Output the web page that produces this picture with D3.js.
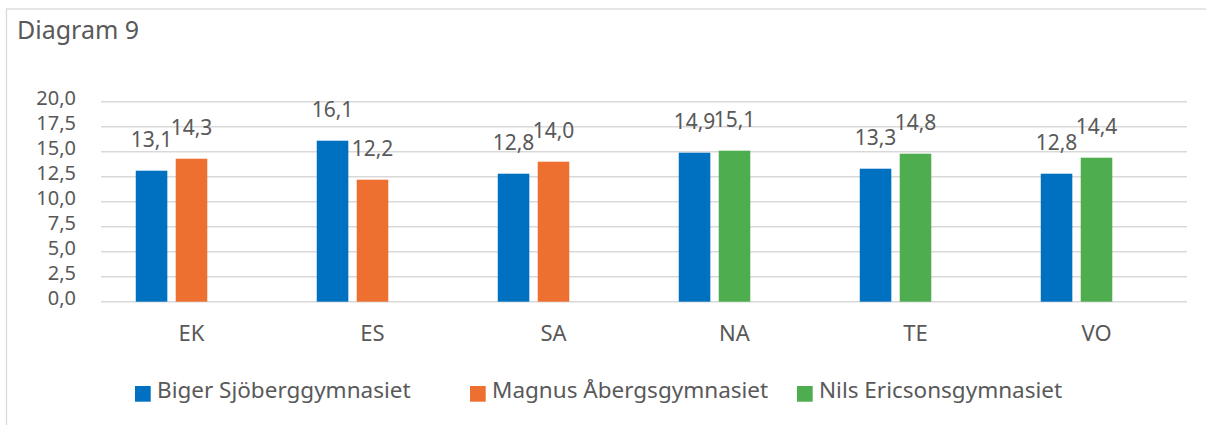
<!DOCTYPE html>
<html>
<head>
<meta charset="utf-8">
<script src="https://cdn.jsdelivr.net/npm/d3@7"></script>
<style>
  body { margin: 0; background: #fff; }
  svg text { font-family: "Noto Sans", sans-serif; fill: #595959; }
</style>
</head>
<body>
<svg id="chart" width="1206" height="425"></svg>
<script>
var categories = ["EK", "ES", "SA", "NA", "TE", "VO"];
var bigerValues = [13.1, 16.1, 12.8, 14.9, 13.3, 12.8];
var magnusValues = [14.3, 12.2, 14.0, null, null, null];
var nilsValues = [null, null, null, 15.1, 14.8, 14.4];
var seriesNames = ["Biger Sjöberggymnasiet", "Magnus Åbergsgymnasiet", "Nils Ericsonsgymnasiet"];
var yTicks = [0, 2.5, 5, 7.5, 10, 12.5, 15, 17.5, 20];
var title = "Diagram 9";

var colors = ["#0070c0", "#ed7031", "#4ead4e"];
// second and third school share the second bar slot (one column each per category)
var slots = [0, 1, 1];
var seriesValues = [bigerValues, magnusValues, nilsValues];
var legendX = [135, 470, 797];

var margin = {top: 101.7, left: 101, right: 19, bottom: 123.3};
var width = 1206, height = 425;

var svg = d3.select("#chart");

// outer frame
svg.append("rect")
  .attr("x", 6.5).attr("y", 9)
  .attr("width", 1250).attr("height", 500)
  .attr("fill", "none")
  .attr("stroke", "#d9d9d9")
  .attr("stroke-width", 1.3);

svg.append("text")
  .attr("x", 17).attr("y", 39)
  .style("font-size", "25px")
  .text(title);

var x = d3.scaleBand()
  .domain(categories)
  .range([margin.left, width - margin.right]);

var slot = d3.scaleBand()
  .domain([0, 1, 2])
  .range([0, x.bandwidth()])
  .paddingInner(0.21)
  .paddingOuter(0.87);

var y = d3.scaleLinear()
  .domain([0, 20])
  .range([height - margin.bottom, margin.top]);

// gridlines
svg.append("g")
  .selectAll("line")
  .data(yTicks)
  .join("line")
  .attr("x1", margin.left).attr("x2", width - margin.right)
  .attr("y1", function(d) { return y(d); })
  .attr("y2", function(d) { return y(d); })
  .attr("stroke", "#d9d9d9")
  .attr("stroke-width", 1.5);

var fmt = function(d) { return d3.format(".1f")(d).replace(".", ","); };

var yAxis = svg.append("g")
  .attr("transform", "translate(" + margin.left + ",0)")
  .call(d3.axisLeft(y).tickValues(yTicks).tickSize(0).tickPadding(25).tickFormat(fmt));
yAxis.select(".domain").remove();
yAxis.selectAll("text")
  .attr("dy", "0.12em")
  .style("font-size", "20px")
  .attr("fill", "#595959");

// category labels
svg.append("g")
  .selectAll("text")
  .data(categories)
  .join("text")
  .attr("x", function(d) { return x(d) + x.bandwidth() / 2; })
  .attr("y", 341)
  .attr("text-anchor", "middle")
  .style("font-size", "22px")
  .text(function(d) { return d; });

// bars + value labels
seriesValues.forEach(function(values, s) {
  var pts = categories.map(function(c, i) { return {cat: c, v: values[i]}; })
    .filter(function(d) { return d.v != null; });
  var g = svg.append("g");
  g.selectAll("rect")
    .data(pts)
    .join("rect")
    .attr("x", function(d) { return x(d.cat) + slot(slots[s]); })
    .attr("width", slot.bandwidth())
    .attr("y", function(d) { return y(d.v); })
    .attr("height", function(d) { return y(0) - y(d.v); })
    .attr("fill", colors[s]);
  g.selectAll("text")
    .data(pts)
    .join("text")
    .attr("x", function(d) { return x(d.cat) + slot(slots[s]) + slot.bandwidth() / 2; })
    .attr("y", function(d) { return y(d.v) - 23.5; })
    .attr("text-anchor", "middle")
    .style("font-size", "21px")
    .text(function(d) { return fmt(d.v); });
});

// legend
var legend = svg.append("g").attr("transform", "translate(0,386)");
seriesNames.forEach(function(name, s) {
  var item = legend.append("g").attr("transform", "translate(" + legendX[s] + ",0)");
  item.append("rect")
    .attr("width", 15.7).attr("height", 15.7)
    .attr("fill", colors[s]);
  item.append("text")
    .attr("x", 22).attr("y", 11.8)
    .style("font-size", "22.5px")
    .text(name);
});
</script>
</body>
</html>
